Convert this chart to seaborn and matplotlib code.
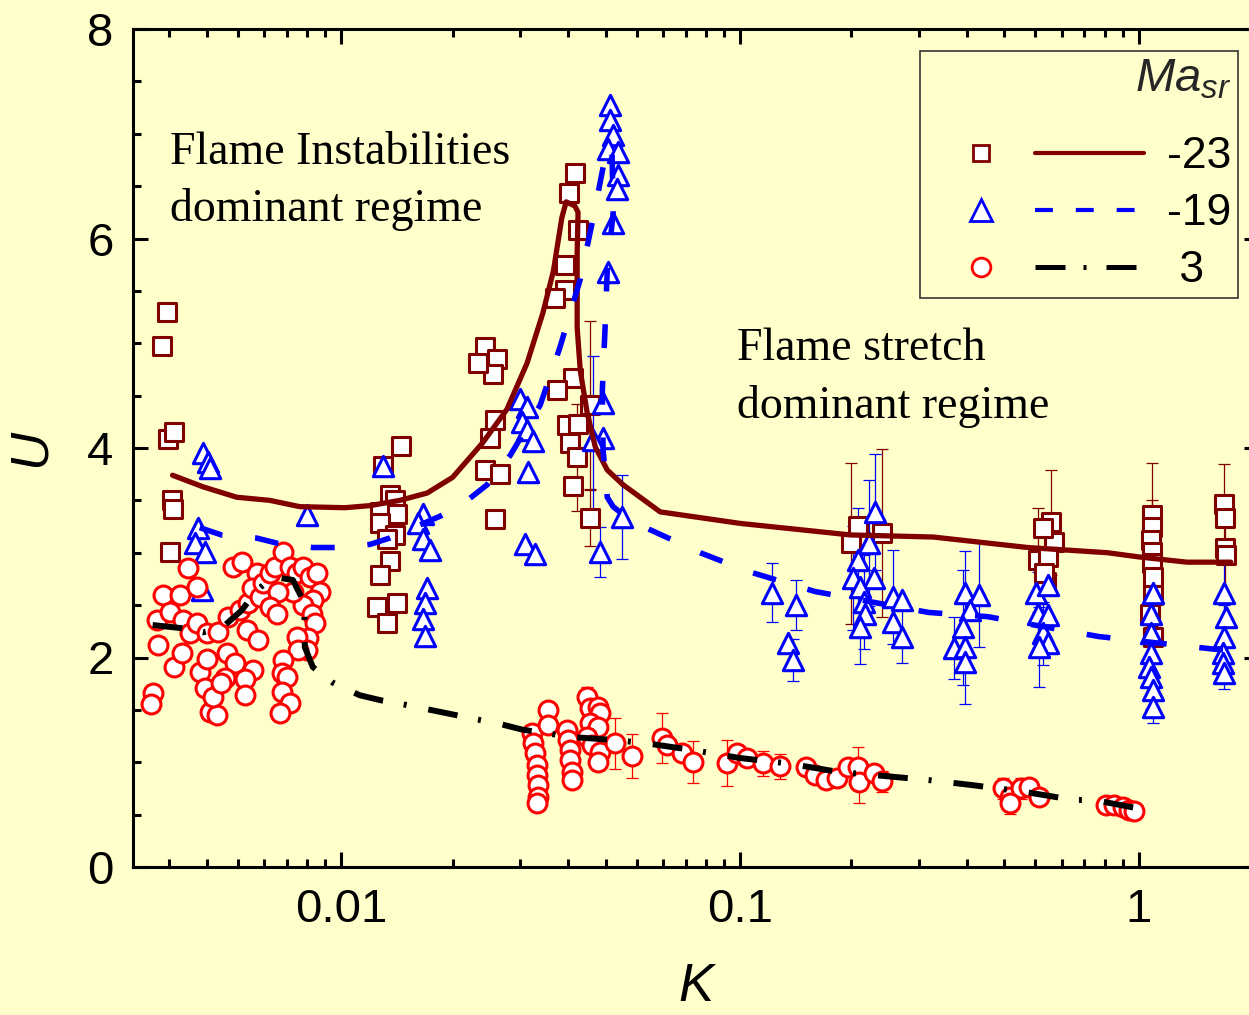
# U versus K for three Markstein numbers, with fitted trend lines

import numpy as np
import seaborn as sns
import matplotlib
matplotlib.use("Agg")
import matplotlib.pyplot as plt
from matplotlib.lines import Line2D
from matplotlib.legend_handler import HandlerTuple
from matplotlib.ticker import FixedLocator, FixedFormatter, MultipleLocator, NullFormatter

# Ma_sr = -23 (squares)
k_sq = [0.00354, 0.00366, 0.00368, 0.00381, 0.00375, 0.00377, 0.00371,
        0.0141, 0.0127, 0.0132, 0.0136, 0.0125, 0.0138, 0.0125, 0.0136, 0.0130, 0.0132, 0.0125, 0.0123, 0.0130, 0.0138,
        0.0229, 0.0245, 0.0240, 0.0220, 0.0243, 0.0236, 0.0229, 0.0250, 0.0243,
        0.0385, 0.0372, 0.0392, 0.0364, 0.0364, 0.0343, 0.0381, 0.0347, 0.0420, 0.0368, 0.0392, 0.0374, 0.0390, 0.0381, 0.0420,
        0.197, 0.190, 0.227,
        0.600, 0.611, 0.573, 0.557, 0.593, 0.583, 0.577,
        1.077, 1.077, 1.070, 1.077, 1.077, 1.082, 1.082, 1.064, 1.082,
        1.63, 1.64, 1.64, 1.65]
u_sq = [4.97, 5.30, 4.09, 4.15, 3.50, 3.42, 3.01,
        4.02, 3.83, 3.55, 3.50, 3.39, 3.37, 3.28, 3.17, 3.13, 2.92, 2.79, 2.48, 2.33, 2.52,
        4.96, 4.85, 4.71, 4.81, 4.27, 4.10, 3.79, 3.75, 3.32,
        6.63, 6.43, 6.08, 5.75, 5.51, 5.43, 4.67, 4.55, 4.41, 4.22, 4.23, 4.05, 3.91, 3.64, 3.33,
        3.26, 3.09, 3.19,
        3.29, 3.10, 3.24, 2.93, 2.96, 2.72, 2.81,
        3.36, 3.25, 3.12, 3.01, 2.90, 2.77, 2.60, 2.42, 2.20,
        3.47, 3.33, 3.05, 2.98]
e_sq = [0, 0, 0, 0, 0, 0, 0,
        0, 0, 0, 0, 0, 0, 0, 0, 0, 0, 0, 0, 0, 0,
        0, 0, 0, 0, 0, 0, 0, 0, 0,
        0, 0, 0, 0, 0, 0, 0, 0, 0.80, 0, 0, 0, 0.51, 0, 0.27,
        0, 0.77, 0.80,
        0.50, 0, 0, 0.50, 0, 0, 0,
        0.50, 0, 0, 0, 0.60, 0, 0, 0, 0.40,
        0.38, 0, 0.50, 0]

# Ma_sr = -19 (triangles)
k_tr = [0.00449, 0.00462, 0.00467, 0.00436, 0.00428, 0.00454, 0.00446, 0.00818,
        0.0127, 0.0160, 0.0156, 0.0160, 0.0167, 0.0164, 0.0162, 0.0160, 0.0162,
        0.0280, 0.0292, 0.0284, 0.0292, 0.0302, 0.0294, 0.0289, 0.0306,
        0.0472, 0.0472, 0.0480, 0.0467, 0.0494, 0.0494, 0.0491, 0.0480, 0.0467, 0.0453, 0.0453, 0.0428, 0.0506, 0.0445,
        0.120, 0.138, 0.132, 0.136,
        0.218, 0.210, 0.197, 0.192, 0.216, 0.200, 0.241, 0.255, 0.204, 0.206, 0.200, 0.241, 0.255,
        0.366, 0.396, 0.378, 0.363, 0.343, 0.367, 0.367,
        0.551, 0.593, 0.557, 0.593, 0.573, 0.590, 0.560,
        1.082, 1.070, 1.070, 1.070, 1.058, 1.070, 1.082, 1.082,
        1.63, 1.65, 1.63, 1.625, 1.625, 1.63]
u_tr = [3.95, 3.87, 3.81, 3.24, 3.09, 3.01, 2.64, 3.36,
        3.83, 3.37, 3.28, 3.13, 3.03, 2.66, 2.52, 2.37, 2.21,
        4.47, 4.39, 4.25, 4.17, 4.07, 3.77, 3.08, 2.99,
        7.27, 7.13, 6.99, 6.85, 6.83, 6.61, 6.47, 6.15, 5.68, 4.43, 4.10, 4.08, 3.34, 3.01,
        2.62, 2.50, 2.14, 1.98,
        3.39, 3.09, 2.93, 2.76, 2.76, 2.67, 2.58, 2.55, 2.53, 2.42, 2.29, 2.34, 2.20,
        2.62, 2.60, 2.45, 2.29, 2.09, 2.10, 1.96,
        2.62, 2.69, 2.42, 2.41, 2.23, 2.14, 2.10,
        2.62, 2.42, 2.23, 2.04, 1.91, 1.81, 1.69, 1.53,
        2.62, 2.39, 2.20, 2.04, 1.95, 1.85]
e_tr = [0, 0, 0, 0, 0, 0, 0, 0,
        0, 0, 0, 0, 0, 0, 0, 0, 0,
        0, 0, 0, 0, 0, 0, 0, 0,
        0, 0, 0, 0, 0, 0, 0, 0, 0, 0, 0, 0.80, 0.40, 0.24,
        0.28, 0.24, 0, 0.20,
        0.55, 0.60, 0.50, 0.50, 0, 0, 0.45, 0, 0.45, 0, 0.35, 0, 0.25,
        0.40, 0.50, 0, 0.55, 0.30, 0, 0.40,
        0.30, 0, 0.40, 0, 0.30, 0, 0.38,
        0, 0.30, 0, 0.30, 0, 0.30, 0, 0.16,
        0.30, 0, 0.30, 0, 0.15, 0.15]

# Ma_sr = 3 (circles)
k_ci = [0.00336, 0.00332, 0.00344, 0.00346, 0.00356, 0.00393, 0.00371, 0.00411, 0.00434, 0.00400,
        0.00416, 0.00381, 0.00397, 0.00434, 0.00459, 0.00441, 0.00454, 0.00459, 0.00467, 0.00486,
        0.00475, 0.00489, 0.00519, 0.00556, 0.00582, 0.00578, 0.00617, 0.00533, 0.00562, 0.00613,
        0.00596, 0.00624, 0.00634, 0.00661, 0.00680, 0.00712, 0.00742, 0.00773, 0.00800, 0.00832,
        0.00867, 0.00883, 0.00847, 0.00800, 0.00755, 0.00692, 0.00661, 0.00688, 0.00842, 0.00857,
        0.00823, 0.00773, 0.00818, 0.00777, 0.00712, 0.00708, 0.00729, 0.00708, 0.00742, 0.00700,
        0.00515, 0.00540, 0.00599, 0.00572, 0.00572, 0.00509, 0.00500,
        0.0300, 0.0302, 0.0306, 0.0310, 0.0310, 0.0311, 0.0311, 0.0310, 0.0330, 0.0330,
        0.0368, 0.0370, 0.0374, 0.0374, 0.0379, 0.0379,
        0.0413, 0.0420, 0.0440, 0.0445, 0.0420, 0.0440, 0.0413, 0.0425, 0.0445, 0.0440,
        0.0486, 0.0536, 0.0637, 0.0656, 0.0715, 0.0762, 0.0928, 0.0983, 0.104, 0.114, 0.126,
        0.146, 0.154, 0.164, 0.175, 0.186, 0.197, 0.198, 0.216, 0.227,
        0.455, 0.476, 0.505, 0.529, 0.560, 0.476,
        0.826, 0.865, 0.911, 0.943, 0.970]
u_ci = [1.66, 1.56, 2.36, 2.12, 2.60, 2.60, 2.43, 2.85, 2.67, 2.36,
        2.23, 1.91, 2.04, 2.33, 2.23, 1.86, 1.71, 1.99, 1.48, 1.45,
        1.62, 2.24, 2.39, 2.45, 2.52, 2.26, 2.17, 2.86, 2.91, 2.81,
        2.66, 2.58, 2.71, 2.81, 2.86, 3.01, 2.86, 2.81, 2.86, 2.77,
        2.81, 2.63, 2.55, 2.50, 2.63, 2.63, 2.48, 2.42, 2.42, 2.33,
        2.19, 2.20, 2.07, 2.07, 1.98, 1.85, 1.81, 1.67, 1.57, 1.47,
        2.04, 1.95, 1.88, 1.79, 1.64, 1.80, 1.76,
        1.28, 1.18, 1.09, 0.97, 0.88, 0.78, 0.67, 0.61, 1.50, 1.36,
        1.31, 1.21, 1.12, 1.02, 0.91, 0.83,
        1.62, 1.52, 1.53, 1.47, 1.37, 1.34, 1.24, 1.16, 1.10, 1.00,
        1.18, 1.06, 1.23, 1.16, 1.09, 1.00, 0.99, 1.09, 1.04, 0.99, 0.96,
        0.95, 0.88, 0.83, 0.85, 0.95, 0.95, 0.81, 0.90, 0.82,
        0.75, 0.67, 0.75, 0.76, 0.67, 0.61,
        0.59, 0.59, 0.57, 0.54, 0.53]
e_ci = [0] * 67 + [0] * 16 + [0.10, 0, 0, 0, 0, 0, 0, 0, 0, 0] + \
       [0.24, 0.21, 0.24, 0, 0, 0.20, 0.22, 0, 0, 0.12, 0.12,
        0, 0, 0, 0, 0, 0.20, 0.20, 0, 0.10,
        0.10, 0, 0.10, 0, 0, 0.10,
        0, 0, 0.08, 0, 0]

# trend lines
k_fit_sq = [0.00377, 0.00449, 0.00546, 0.00661, 0.00786, 0.0102, 0.0118, 0.0140, 0.0164, 0.0190,
            0.0226, 0.0260, 0.0292, 0.0320, 0.0340, 0.0357, 0.0366, 0.0385, 0.0392, 0.0390,
            0.0390, 0.0397, 0.0413, 0.0433, 0.0464, 0.0508, 0.0630, 0.100, 0.189, 0.305,
            0.526, 0.835, 1.0, 1.32, 1.70]
u_fit_sq = [3.74, 3.63, 3.53, 3.50, 3.44, 3.43, 3.45, 3.50, 3.57, 3.72,
            4.05, 4.37, 4.81, 5.29, 5.69, 6.20, 6.35, 6.31, 6.25, 5.87,
            5.15, 4.74, 4.34, 4.01, 3.79, 3.65, 3.39, 3.28, 3.17, 3.15,
            3.05, 3.00, 2.96, 2.91, 2.91]
k_fit_tr = [0.00441, 0.00500, 0.00613, 0.00692, 0.00847, 0.00973, 0.0118, 0.0132, 0.0177, 0.0210,
            0.0232, 0.0265, 0.0315, 0.0353, 0.0397, 0.0428, 0.0453, 0.0469, 0.0477, 0.0480,
            0.0464, 0.0458, 0.0451, 0.0453, 0.0464, 0.0480, 0.0530, 0.0594, 0.0794, 0.105,
            0.154, 0.297, 0.417, 0.793, 1.54, 1.80]
u_fit_tr = [3.24, 3.17, 3.14, 3.09, 3.05, 3.05, 3.08, 3.14, 3.35, 3.52,
            3.65, 3.93, 4.41, 4.96, 5.61, 6.20, 6.68, 6.89, 6.83, 6.24,
            5.70, 5.13, 4.55, 3.98, 3.53, 3.44, 3.31, 3.22, 3.00, 2.82,
            2.63, 2.43, 2.39, 2.20, 2.08, 2.06]
k_fit_ci = [0.00336, 0.00397, 0.00449, 0.00500, 0.00562, 0.00613, 0.00673, 0.00755, 0.00800, 0.00809,
            0.00809, 0.00847, 0.00951, 0.0111, 0.0126, 0.0144, 0.0253, 0.0285, 0.0381, 0.0491,
            0.0584, 0.0749, 0.100, 0.131, 0.175, 0.297, 0.385, 0.511, 0.686, 0.770, 0.993]
u_fit_ci = [2.31, 2.28, 2.24, 2.28, 2.45, 2.64, 2.77, 2.74, 2.55, 2.33,
            2.10, 1.91, 1.76, 1.64, 1.59, 1.55, 1.36, 1.31, 1.24, 1.21,
            1.18, 1.12, 1.04, 0.99, 0.91, 0.83, 0.78, 0.72, 0.64, 0.64, 0.56]

x_ticks = [0.01, 0.1, 1]
x_tick_labels = ['0.01', '0.1', '1']
legend_labels = ['-23', '-19', ' 3']

BG = '#FFFFCC'
DARK_RED = '#800000'
BLUE = '#0000FF'
RED = '#FF0000'

sns.set_theme(style="ticks")
plt.rcParams['font.family'] = ['Liberation Sans', 'DejaVu Sans']
plt.rcParams['mathtext.fontset'] = 'custom'
plt.rcParams['mathtext.rm'] = 'Liberation Sans'
plt.rcParams['mathtext.it'] = 'Liberation Sans:italic'

fig = plt.figure(figsize=(12.49, 10.15), dpi=100, facecolor=BG)
ax = fig.add_axes([133 / 1249, 148 / 1015, 1126 / 1249, 838 / 1015], facecolor=BG)


def draw_errors(k, u, e, color):
    k, u, e = np.asarray(k), np.asarray(u), np.asarray(e)
    m = e > 0
    ax.errorbar(k[m], u[m], yerr=e[m], fmt='none', ecolor=color, elinewidth=0.9,
                capsize=4.5, capthick=0.9, zorder=2)


draw_errors(k_sq, u_sq, e_sq, DARK_RED)
draw_errors(k_tr, u_tr, e_tr, BLUE)
draw_errors(k_ci, u_ci, e_ci, RED)

sns.scatterplot(x=k_sq, y=u_sq, marker='s', s=150, color='white', edgecolor=DARK_RED,
                linewidth=2.2, ax=ax, zorder=3, legend=False)
sns.scatterplot(x=k_tr, y=u_tr, marker='^', s=215, color='white', edgecolor=BLUE,
                linewidth=2.2, ax=ax, zorder=3, legend=False)
sns.scatterplot(x=k_ci, y=u_ci, marker='o', s=185, color='white', edgecolor=RED,
                linewidth=2.2, ax=ax, zorder=3, legend=False)

sns.lineplot(x=k_fit_sq, y=u_fit_sq, sort=False, estimator=None, color=DARK_RED, lw=3.8,
             ax=ax, zorder=4, legend=False)
sns.lineplot(x=k_fit_tr, y=u_fit_tr, sort=False, estimator=None, color=BLUE, lw=4.0,
             linestyle=(0, (4.3, 5.9)), ax=ax, zorder=4, legend=False)
sns.lineplot(x=k_fit_ci, y=u_fit_ci, sort=False, estimator=None, color='black', lw=4.3,
             linestyle=(0, (5.0, 3.5, 0.5, 3.7)), ax=ax, zorder=4, legend=False)

ax.set_xscale('log')
ax.set_xlim(0.003, 2)
ax.set_ylim(0, 8)
ax.xaxis.set_major_locator(FixedLocator(x_ticks))
ax.xaxis.set_major_formatter(FixedFormatter(x_tick_labels))
ax.xaxis.set_minor_locator(FixedLocator([d * (1 + 0.9 * i) for d in (0.001, 0.01, 0.1, 1) for i in range(1, 10)]))
ax.xaxis.set_minor_formatter(NullFormatter())
ax.yaxis.set_major_locator(MultipleLocator(2))
ax.yaxis.set_minor_locator(MultipleLocator(0.5))
ax.tick_params(which='both', direction='in', top=True, right=True, width=2.2, color='black',
               labelcolor='black', labelsize=34)
ax.tick_params(which='major', length=11)
ax.tick_params(which='minor', length=5.5)
ax.tick_params(axis='y', pad=14)
ax.tick_params(axis='x', pad=15)
for sp in ax.spines.values():
    sp.set_linewidth(2.2)
    sp.set_color('black')
    sp.set_visible(True)
ax.grid(False)

ax.set_xlabel('K', fontsize=38, fontstyle='italic', labelpad=22, color='black')
ax.set_ylabel('U', fontsize=38, fontstyle='italic', labelpad=23, color='black')

ax.text(0.00371, 7.02, 'Flame Instabilities\ndominant regime', family='Liberation Serif',
        fontsize=33, va='top', ha='left', linespacing=1.42, color='black')
ax.text(0.0983, 5.15, 'Flame stretch\ndominant regime', family='Liberation Serif',
        fontsize=33, va='top', ha='left', linespacing=1.45, color='black')

h_sq = (Line2D([], [], ls='none', marker='s', ms=11.5, mfc='white', mec=DARK_RED, mew=2),
        Line2D([], [], color=DARK_RED, lw=3))
h_tr = (Line2D([], [], ls='none', marker='^', ms=16.5, mfc='white', mec=BLUE, mew=2),
        Line2D([], [], color=BLUE, lw=3, linestyle=(0, (4.3, 5.5))))
h_ci = (Line2D([], [], ls='none', marker='o', ms=13.5, mfc='white', mec=RED, mew=2),
        Line2D([], [], color='black', lw=3.6, linestyle=(0, (6, 3.6, 0.6, 4))))
leg = ax.legend([h_sq, h_tr, h_ci], legend_labels,
                handler_map={tuple: HandlerTuple(ndivide=None, pad=0)},
                title='$Ma_{sr}$', title_fontsize=34, fontsize=32, loc='upper right',
                bbox_to_anchor=(0.981, 0.974), borderaxespad=0, frameon=True, fancybox=False,
                framealpha=1, facecolor=BG, edgecolor='#333333', handlelength=4.9,
                handletextpad=0.5, labelspacing=0.36, borderpad=0.15, alignment='right')
leg._legend_box.sep = 25  # extra room under the title (points), as in the original
leg.get_frame().set_linewidth(1.2)
for t in leg.get_texts():
    t.set_color('black')

fig.savefig('out.png', dpi=100, facecolor=BG)
